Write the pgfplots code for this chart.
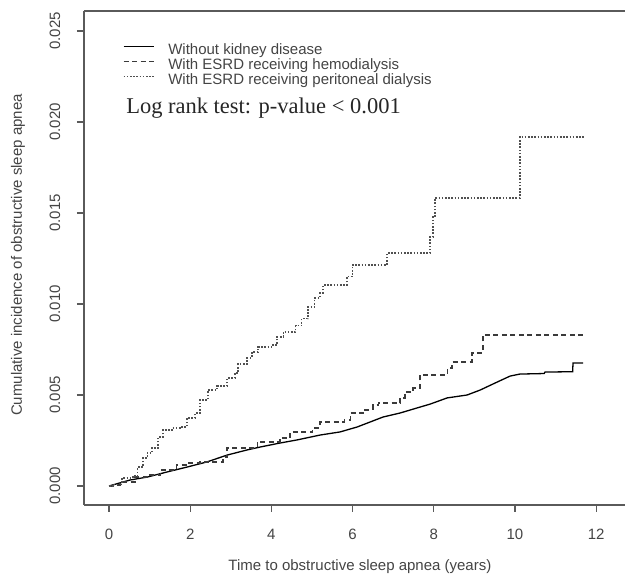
\documentclass[border=0pt]{standalone}
\usepackage{fontspec}
\setmainfont{Liberation Sans}
\newfontfamily\timesfont{Liberation Serif}
\usepackage{pgfplots}
\pgfplotsset{compat=1.18}
\definecolor{txt}{HTML}{444444}
\definecolor{axc}{HTML}{5A5A5A}
\definecolor{dashc}{HTML}{3A3A3A}
\definecolor{dotc}{HTML}{505050}
\begin{document}
\begin{tikzpicture}[x=1pt,y=1pt]
\begin{axis}[
  at={(0pt,0pt)}, anchor=south west,
  scale only axis, width=541pt, height=494pt,
  xmin=-0.616, xmax=12.71, ymin=-0.001044, ymax=0.0261,
  axis x line*=box, axis y line*=left,
  xtick pos=bottom, ytick pos=left,
  axis line style={axc, line width=1.2pt},
  tick style={axc, line width=1.2pt},
  tick align=outside, major tick length=7pt,
  xtick={0,2,4,6,8,10,12},
  xticklabels={0,2,4,6,8,10,12},
  ytick={0,0.005,0.01,0.015,0.02,0.025},
  yticklabels={0.000,0.005,0.010,0.015,0.020,0.025},
  scaled y ticks=false,
  xticklabel style={font=\fontsize{15}{17}\selectfont, text=txt, anchor=center, yshift=-22pt},
  yticklabel style={font=\fontsize{15}{17}\selectfont, text=txt, rotate=90, anchor=center, yshift=22pt},
  xlabel={Time to obstructive sleep apnea (years)},
  ylabel={Cumulative incidence of obstructive sleep apnea},
  xlabel style={font=\fontsize{15}{17}\selectfont, text=txt, at={(axis description cs:0.510,-0.1255)}, anchor=center},
  ylabel style={font=\fontsize{15}{17}\selectfont, text=txt, at={(axis description cs:-0.122,0.506)}, anchor=center},
  legend cell align=left,
  legend style={draw=none, fill=none, inner sep=0pt, outer sep=0pt,
    at={(rel axis cs:0.0721,0.9352)}, anchor=north west,
    font=\fontsize{15}{17}\selectfont, text=txt,
    column sep=14pt, row sep=0pt,
    nodes={inner sep=0pt, text height=11.5pt, text depth=3.5pt}},
  legend image code/.code={\draw[#1] (0pt,4pt) -- (30pt,4pt);},
  clip=false,
]
\addplot[black, line width=1.3pt] coordinates {
(0,0) (0.52,0.00033) (0.94,0.00049) (1.43,0.00077) (1.92,0.00104) (2.41,0.00132)
(2.91,0.0017) (3.40,0.00198) (3.72,0.00214) (4.21,0.00236) (4.63,0.00253)
(5.20,0.0028) (5.69,0.00297) (6.11,0.00324) (6.75,0.00379) (7.17,0.00401)
(7.59,0.00429) (7.91,0.0045) (8.33,0.00484) (8.82,0.005) (9.14,0.00527)
(9.56,0.00571) (9.88,0.00604) (10.12,0.00615) (10.72,0.00618) (10.74,0.00626)
(11.42,0.00628) (11.43,0.00676) (11.68,0.00676)
};
\addlegendentry{Without kidney disease}
\addplot[const plot, dashc, line width=1.3pt, dash pattern=on 5pt off 3.5pt] coordinates {
(0,0) (0.1,0.00005) (0.27,0.00022) (0.64,0.00049) (0.94,0.0006) (1.26,0.00088)
(1.67,0.00115) (1.92,0.00126) (2.24,0.00132) (2.81,0.00159) (2.91,0.00209)
(3.65,0.00242) (4.21,0.00264) (4.46,0.00297) (5.02,0.00319) (5.20,0.00352)
(5.80,0.00363) (5.94,0.00401) (6.26,0.00418) (6.50,0.00445) (6.63,0.00456)
(7.17,0.00484) (7.29,0.00516) (7.49,0.00538) (7.66,0.0061) (8.33,0.00648)
(8.45,0.00681) (8.94,0.00731) (9.21,0.0083) (11.72,0.0083)
};
\addlegendentry{With ESRD receiving hemodialysis}
\addplot[const plot, dotc, line width=1.3pt, dash pattern=on 1.6pt off 1.6pt] coordinates {
(0,0) (0.1,0.0001) (0.32,0.00044) (0.59,0.00055) (0.71,0.00104) (0.84,0.00154)
(0.94,0.00181) (1.06,0.00209) (1.21,0.00269) (1.33,0.00308) (1.55,0.00319)
(1.75,0.00324) (1.92,0.00374) (2.12,0.00401) (2.24,0.00473) (2.44,0.00527)
(2.66,0.0055) (2.91,0.00593) (3.10,0.00621) (3.18,0.0067) (3.40,0.00703)
(3.52,0.00736) (3.67,0.00764) (4.04,0.00775) (4.14,0.00819) (4.29,0.00846)
(4.60,0.0088) (4.75,0.0092) (4.90,0.00984) (5.07,0.01033) (5.20,0.0106)
(5.27,0.01104) (5.86,0.0115) (5.99,0.01214) (6.85,0.0128) (7.91,0.01368)
(7.98,0.01478) (8.03,0.01582) (10.12,0.01918) (11.72,0.01918)
};
\addlegendentry{With ESRD receiving peritoneal dialysis}
\node[anchor=west, inner sep=0pt, font=\timesfont\fontsize{22.5}{24}\selectfont, text=black!85]
  at (axis cs:0.42,0.02075) {Log rank test: p-value < 0.001};
\end{axis}
\pgfresetboundingbox
\path[use as bounding box] (-84pt,-81pt) rectangle (541pt,505pt);
\end{tikzpicture}
\end{document}
